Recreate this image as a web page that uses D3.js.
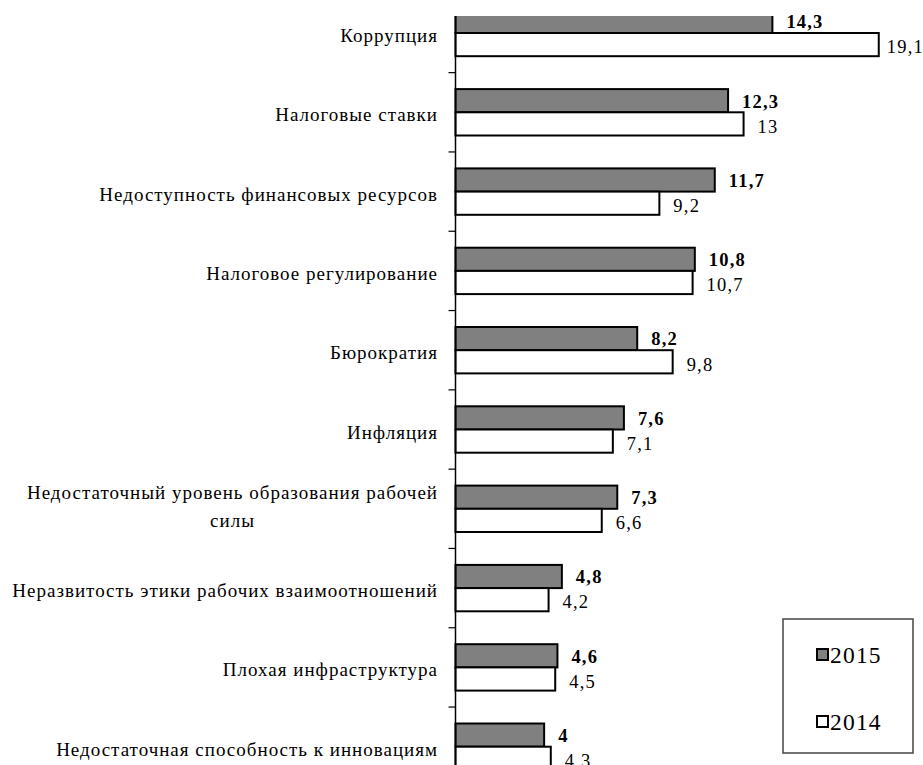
<!DOCTYPE html>
<html>
<head>
<meta charset="utf-8">
<script src="https://cdn.jsdelivr.net/npm/d3@7"></script>
<style>
  html, body { margin: 0; padding: 0; background: #fff; }
  svg { display: block; }
</style>
</head>
<body>
<svg id="chart" width="923" height="765"></svg>
<script>
// Obstacles to doing business, share of responses (%)
const categories = [
  "Коррупция",
  "Налоговые ставки",
  "Недоступность финансовых ресурсов",
  "Налоговое регулирование",
  "Бюрократия",
  "Инфляция",
  "Недостаточный уровень образования рабочей силы",
  "Неразвитость этики рабочих взаимоотношений",
  "Плохая инфраструктура",
  "Недостаточная способность к инновациям"
];
const values2015 = [14.3, 12.3, 11.7, 10.8, 8.2, 7.6, 7.3, 4.8, 4.6, 4];
const values2014 = [19.1, 13, 9.2, 10.7, 9.8, 7.1, 6.6, 4.2, 4.5, 4.3];
const seriesNames = ["2015", "2014"];

const W = 923, H = 765;
const svg = d3.select("#chart").style("font-family", "Liberation Serif");
const FS = 18.5, LS = 1.2;       // value labels
const CFS = 19, CLS = 1.0;       // category labels

const axisX = 455.5;
const x = d3.scaleLinear().domain([0, 20]).range([axisX, axisX + 443.2]);

const step = 79.3;
const y = d3.scaleBand()
  .domain(categories)
  .range([33 - step / 2, 33 - step / 2 + step * categories.length])
  .paddingInner(0.415)
  .paddingOuter(0.2075);
const barH = y.bandwidth() / 2;

const fmt = v => String(v).replace(".", ",");

// plot area is cut off at the top edge
svg.append("defs").append("clipPath").attr("id", "plotClip")
  .append("rect").attr("x", 0).attr("y", 16).attr("width", W).attr("height", H - 16);

const plot = svg.append("g").attr("clip-path", "url(#plotClip)");

const series = [
  { name: seriesNames[0], values: values2015, fill: "#808080", offset: 0, bold: true, dy: 0.5 },
  { name: seriesNames[1], values: values2014, fill: "#ffffff", offset: 1, bold: false, dy: 2.5 }
];

series.forEach(s => {
  plot.append("g").selectAll("rect")
    .data(categories)
    .join("rect")
    .attr("x", x(0))
    .attr("y", (c) => y(c) + s.offset * barH)
    .attr("width", (c, i) => x(s.values[i]) - x(0))
    .attr("height", barH)
    .attr("fill", s.fill)
    .attr("stroke", "#000")
    .attr("stroke-width", 2);
});

// value labels
series.forEach(s => {
  const g = svg.append("g");
  categories.forEach((c, i) => {
    const t = g.append("text")
      .attr("y", y(c) + s.offset * barH + barH / 2 + s.dy + 6.3)
      .attr("font-size", FS)
      .attr("letter-spacing", LS)
      .attr("font-weight", s.bold ? "bold" : "normal")
      .text(fmt(s.values[i]));
    const w = t.node().getComputedTextLength();
    t.attr("x", Math.min(x(s.values[i]) + 14, W - w + 1));
  });
});

// category axis: line and ticks between groups
plot.append("line")
  .attr("x1", axisX).attr("x2", axisX)
  .attr("y1", 0).attr("y2", H)
  .attr("stroke", "#000").attr("stroke-width", 1.5);

const tickYs = categories.slice(1).map(c => y(c) - (y.step() - y.bandwidth()) / 2);
plot.append("g").selectAll("line")
  .data(tickYs)
  .join("line")
  .attr("x1", axisX - 7).attr("x2", axisX)
  .attr("y1", d => d).attr("y2", d => d)
  .attr("stroke", "#000").attr("stroke-width", 1.2);

// category labels, wrapped when too long
const labelRight = 438;
const maxLabelW = 440;
const lineGap = 28;
const labels = svg.append("g");
const measure = str => {
  const tp = labels.append("text").attr("font-size", CFS).attr("letter-spacing", CLS).text(str);
  const w = tp.node().getComputedTextLength();
  tp.remove();
  return w;
};
categories.forEach(c => {
  const cy = y(c) + y.bandwidth() / 2;
  let lines = [c];
  if (measure(c) > maxLabelW) {
    const words = c.split(" ");
    let cur = [];
    lines = [];
    words.forEach(wd => {
      const trial = cur.concat(wd).join(" ");
      if (measure(trial) > maxLabelW && cur.length) { lines.push(cur.join(" ")); cur = [wd]; }
      else cur.push(wd);
    });
    if (cur.length) lines.push(cur.join(" "));
  }
  if (lines.length === 1) {
    labels.append("text")
      .attr("x", labelRight).attr("y", cy + 9)
      .attr("text-anchor", "end")
      .attr("font-size", CFS).attr("letter-spacing", CLS)
      .text(lines[0]);
  } else {
    const mid = labelRight - measure(lines[0]) / 2;
    lines.forEach((ln, k) => {
      labels.append("text")
        .attr("x", mid)
        .attr("y", cy + 4 + (k - (lines.length - 1) / 2) * lineGap)
        .attr("text-anchor", "middle")
        .attr("font-size", CFS).attr("letter-spacing", CLS)
        .text(ln);
    });
  }
});

// legend
const legend = svg.append("g");
legend.append("rect")
  .attr("x", 783).attr("y", 619).attr("width", 130).attr("height", 134)
  .attr("fill", "#fff").attr("stroke", "#444").attr("stroke-width", 1.5);
const legendRows = [655, 722];
series.forEach((s, k) => {
  legend.append("rect")
    .attr("x", 817).attr("y", legendRows[k] - 6).attr("width", 11).attr("height", 11)
    .attr("fill", s.fill).attr("stroke", "#000").attr("stroke-width", 2);
  legend.append("text")
    .attr("x", 830).attr("y", legendRows[k] + 8)
    .attr("font-size", 23.5).attr("letter-spacing", 1.2)
    .text(s.name);
});
</script>
</body>
</html>
